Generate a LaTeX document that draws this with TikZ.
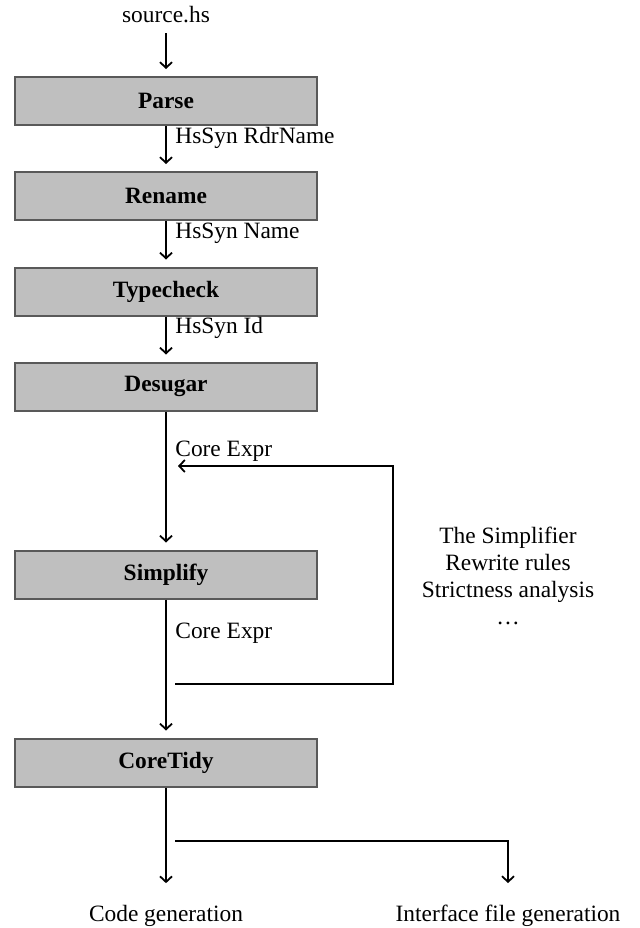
\documentclass[tikz,border=0pt]{standalone}
\usepackage{fontspec}
\setmainfont{Liberation Serif}
\usepackage{tikz}
\usetikzlibrary{arrows.meta}

\tikzset{
  pass/.style={draw=black!65, line width=1pt, fill=black!25,
    minimum width=151pt, minimum height=24pt, inner sep=0pt, font=\bfseries},
  flow/.style={->, line width=0.9pt, shorten >=3.5pt},
  tag/.style={right, inner sep=0pt},
}

\begin{document}
\begin{tikzpicture}[x=0.5pt,y=-0.5pt,>={Straight Barb[length=2.8pt,width=6pt]}]
\fontsize{11.7}{13.5}\selectfont
\useasboundingbox (0,0) rectangle (639,928);

% compiler passes
\node (src) at (166,15) {source.hs};
\node[pass] (parse)    at (166,101)   {Parse};
\node[pass] (rename)   at (166,196)   {Rename};
\node[pass] (tcheck)   at (166,291.5) {Typecheck};
\node[pass] (desugar)  at (166,386.5) {Desugar};
\node[pass] (simplify) at (166,574.5) {Simplify};
\node[pass] (tidy)     at (166,762.5) {CoreTidy};

% intermediate forms
\node[tag] (t1) at (175,138) {HsSyn RdrName};
\node[tag] (t2) at (175,233) {HsSyn Name};
\node[tag] (t3) at (175,328) {HsSyn Id};
\node[tag] (t4) at (175,451) {Core Expr};
\node[tag] (t5) at (175,633) {Core Expr};

\draw[flow, shorten <=1pt] (src) -- (parse);
\draw[flow] (parse) -- (rename);
\draw[flow] (rename) -- (tcheck);
\draw[flow] (tcheck) -- (desugar);
\draw[flow] (desugar) -- (simplify);
\draw[flow] (simplify) -- (tidy);

% simplifier loop
\coordinate (loopout) at (175,684);
\coordinate (looptop) at (393,466);
\coordinate (loopin)  at (178,466);
\draw[->, line width=0.9pt] (loopout) -| (looptop) -- (loopin);
\node[align=center] (passes) at (508,576)
  {The Simplifier\\Rewrite rules\\Strictness analysis\\\dots};

% back end
\node (code)  at (166,916) {Code generation};
\node (iface) at (508,916) {Interface file generation};
\coordinate (branch) at (175,841);
\draw[flow, shorten >=7pt] (tidy) -- (code);
\draw[flow, shorten >=7pt] (branch) -| (iface);
\end{tikzpicture}
\end{document}
